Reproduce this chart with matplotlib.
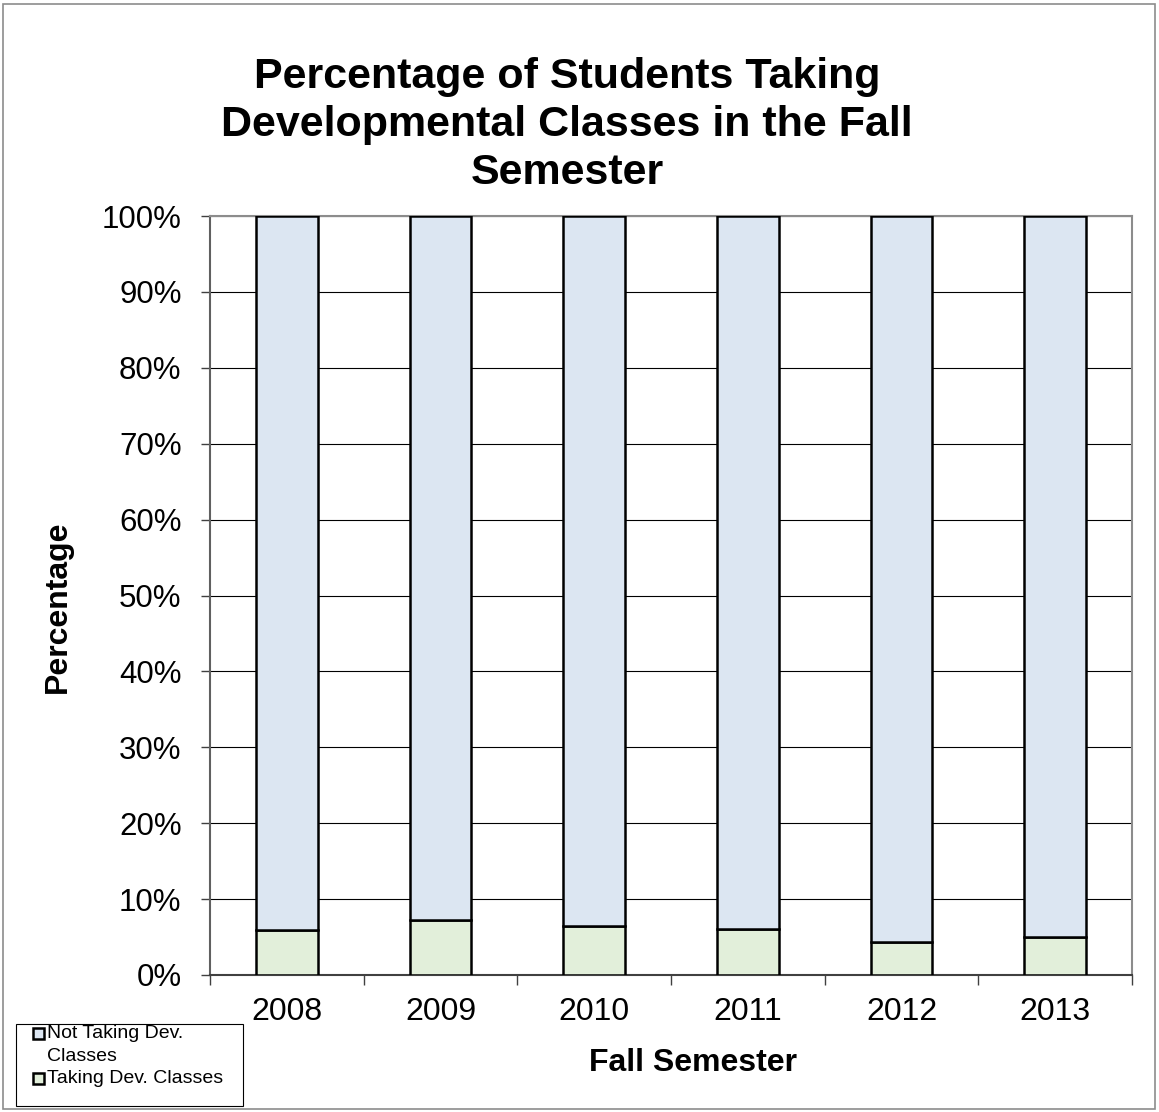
import numpy as np
import matplotlib
matplotlib.use('Agg')
from matplotlib import pyplot as plt
from matplotlib.patches import Rectangle
from matplotlib.ticker import PercentFormatter, FixedLocator

plt.rcParams['font.family'] = ['Liberation Sans', 'DejaVu Sans']

years = ['2008', '2009', '2010', '2011', '2012', '2013']
taking = [5.9, 7.3, 6.4, 6.1, 4.4, 5.0]            # % taking dev. classes
not_taking = [94.1, 92.7, 93.6, 93.9, 95.6, 95.0]  # % not taking
series_names = ['Not Taking Dev.\nClasses', 'Taking Dev. Classes']
colors = ['#dce6f2', '#e2efda']

fig = plt.figure(figsize=(11.59, 11.12), dpi=100)
ax = fig.add_axes([210/1159, 1-975/1112, 922/1159, 759/1112])

x = np.arange(len(years))
ax.bar(x, taking, width=0.4, color=colors[1], edgecolor='black', linewidth=1.8, zorder=3)
ax.bar(x, not_taking, width=0.4, bottom=taking, color=colors[0], edgecolor='black', linewidth=1.8, zorder=3)

ax.set_xlim(-0.5, len(years)-0.5)
ax.set_ylim(0, 100)
ax.set_yticks(np.arange(0, 101, 10))
ax.yaxis.set_major_formatter(PercentFormatter(decimals=0))
ax.grid(axis='y', color='black', linewidth=0.8, zorder=0)

ax.set_xticks(x)
ax.set_xticklabels(years)
ax.xaxis.set_minor_locator(FixedLocator(np.arange(-0.5, len(years), 1)))
ax.tick_params(axis='x', which='major', length=0, pad=16, labelsize=23)
ax.tick_params(axis='x', which='minor', length=7, width=1, color='#404040')
ax.tick_params(axis='y', length=6.5, width=1, pad=14, labelsize=22.5, color='#404040')

for side in ['top', 'right']:
    ax.spines[side].set_color('#8c8c8c')
    ax.spines[side].set_linewidth(1.5)
ax.spines['left'].set_color('#606060')
ax.spines['left'].set_linewidth(1.5)
ax.spines['bottom'].set_color('#404040')
ax.spines['bottom'].set_linewidth(1.5)

ax.set_ylabel('Percentage', fontsize=23, fontweight='bold')
ax.yaxis.set_label_coords((58-210)/922, (975-607)/759)
ax.yaxis.label.set_va('center')
ax.set_xlabel('Fall Semester', fontsize=23, fontweight='bold')
ax.xaxis.set_label_coords((693-210)/922, (975-1063)/759)
ax.xaxis.label.set_va('center')

fig.text(567/1159, 1-125/1112,
         'Percentage of Students Taking\nDevelopmental Classes in the Fall\nSemester',
         ha='center', va='center', multialignment='center',
         fontsize=31, fontweight='bold', linespacing=1.27)

# outer chart border
fig.patches.append(Rectangle((3/1159, 3/1112), 1-7/1159, 1-7/1112, transform=fig.transFigure,
                             fill=False, edgecolor='#8c8c8c', linewidth=1.2))

# legend box (bottom-left, Excel style)
fig.patches.append(Rectangle((16/1159, 1-1106/1112), 227/1159, 82/1112, transform=fig.transFigure,
                             fill=False, edgecolor='black', linewidth=0.8))
legend_rows = [1033, 1078]
for name, col, yy in zip(series_names, colors, legend_rows):
    fig.patches.append(Rectangle((33/1159, 1-(yy+6)/1112), 11/1159, 11/1112, transform=fig.transFigure,
                                 facecolor=col, edgecolor='black', linewidth=1.8))
    fig.text(47/1159, 1-(yy-8)/1112, name, ha='left', va='top', fontsize=14, linespacing=1.45)

fig.savefig('out.png', dpi=100)
